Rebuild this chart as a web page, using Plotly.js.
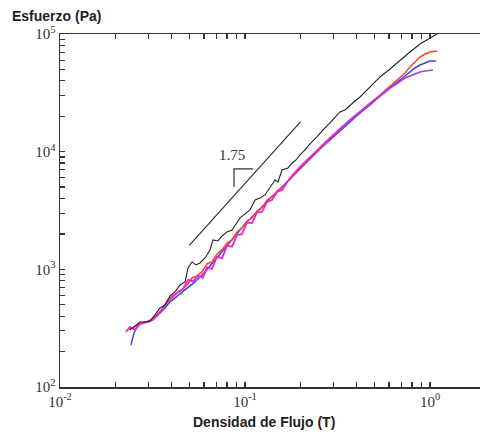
<!DOCTYPE html>
<html><head><meta charset="utf-8">
<script src="https://cdn.plot.ly/plotly-3.0.1.min.js"></script>
<style>html,body{margin:0;padding:0;background:#fff;overflow:hidden}#c{width:480px;height:438px}</style>
</head><body><div id="c"></div>
<script>
// Densidad de flujo (T) / Esfuerzo (Pa)
const blackX = [0.0239,0.02543,0.02706,0.02881,0.03065,0.03262,0.03471,0.03695,0.03932,0.04184,0.04453,0.0474,0.0492,0.05171,0.05434,0.05711,0.06078,0.06468,0.06714,0.07146,0.0751,0.07993,0.08506,0.0894,0.09397,0.1,0.1064,0.1133,0.1205,0.1283,0.1365,0.1453,0.1508,0.1585,0.1708,0.1796,0.1887,0.1983,0.211,0.2246,0.245,0.264,0.2881,0.3065,0.3262,0.3471,0.3695,0.3932,0.4184,0.4453,0.474,0.5044,0.5367,0.6078,0.6883,0.7796,0.883,1.0,1.091];
const blackY = [306,330,357,357,364,410,470,498,594,643,737,781,1028,1156,1090,1133,1250,1461,1777,1743,1922,2079,2161,2431,2734,2957,3197,3888,4043,4287,4916,5748,5528,6990,7270,8017,8500,9376,10337,11626,13333,15290,17530,19330,21740,22610,24940,26970,29150,32160,34770,39100,43130,50420,60130,70340,82220,92470,100000];

const redX = [0.02302,0.02482,0.02706,0.02953,0.03143,0.03345,0.03559,0.03788,0.04031,0.0429,0.04565,0.04859,0.05171,0.05502,0.05855,0.06231,0.06631,0.07057,0.0751,0.07993,0.08506,0.09052,0.09634,0.1025,0.1091,0.1161,0.1236,0.1315,0.1399,0.1489,0.1585,0.1751,0.1983,0.2246,0.2543,0.2881,0.3262,0.3695,0.4184,0.474,0.5367,0.6078,0.6883,0.7326,0.7796,0.8297,0.883,0.9397,1.0,1.091];
const redY = [306,318,350,357,379,410,452,518,571,630,668,737,845,879,950,1111,1156,1351,1461,1676,1777,2079,2247,2578,2734,3135,3324,3888,4122,4634,4914,5862,7270,8841,10750,13070,15590,18600,22170,25930,30320,36150,42290,46630,52440,57820,63770,67630,70330,71700];

const blueX = [0.0242,0.02512,0.0264,0.02881,0.03065,0.03262,0.03471,0.03695,0.03932,0.04184,0.04453,0.0474,0.05044,0.05367,0.05711,0.06078,0.06468,0.06883,0.07326,0.07796,0.08297,0.0883,0.09397,0.1,0.1064,0.1133,0.1205,0.1283,0.1365,0.1453,0.1546,0.1751,0.1983,0.2246,0.2543,0.2881,0.3262,0.3695,0.4184,0.474,0.5367,0.6078,0.6883,0.7326,0.7796,0.8297,0.883,0.9397,1.0,1.078];
const blueY = [228,288,337,357,364,386,426,470,529,571,618,668,723,781,862,950,1069,1202,1378,1550,1743,1922,2161,2431,2681,2956,3260,3595,4043,4370,4819,5862,7129,8670,10540,12570,14990,17880,21320,24940,29730,35450,40670,43970,47550,51420,54530,56700,58960,58960];

const magentaX = [0.02275,0.0239,0.02543,0.02706,0.0299,0.03183,0.03387,0.03605,0.03835,0.04081,0.04343,0.04622,0.0492,0.05236,0.05571,0.05929,0.06231,0.06631,0.07057,0.0751,0.07993,0.08506,0.09052,0.09634,0.1025,0.1091,0.1161,0.1236,0.1315,0.1399,0.1489,0.1585,0.1751,0.1983,0.2246,0.2543,0.2881,0.3262,0.3695,0.4184,0.474,0.5367,0.6078,0.6883];
const magentaY = [294,324,306,344,357,372,418,470,550,594,643,681,813,790,880,850,1040,1010,1275,1240,1590,1560,1960,1990,2500,2470,3050,3080,3738,3888,4545,4726,5977,7413,9016,10960,13070,15590,18600,21750,25430,29730,34770,39880];

const violetX = [0.3262,0.3695,0.4184,0.474,0.5367,0.6078,0.6883,0.7326,0.7796,0.8297,0.883,0.9397,1.0,1.038];
const violetY = [15290,18240,21320,25430,29730,34770,39880,42290,43970,45730,47550,48490,49450,49450];

// slope guide line and bracket
const slopeX = [0.05,0.2];
const slopeY = [1600,18000];
const bracketX = [0.1105,0.0872,0.0872];
const bracketY = [7129,7129,5013];
const slopeLabel = "1.75";
const slopeLabelX = 0.0852, slopeLabelY = 9300;

// tick positions: decades labelled, 2..9 multiples unlabelled
const xDecades = [0.01,0.1,1];
const xDecadeText = ["10<sup>-2</sup>","10<sup>-1</sup>","10<sup>0</sup>"];
const yDecades = [100,1000,10000,100000];
const yDecadeText = ["10<sup>2</sup>","10<sup>3</sup>","10<sup>4</sup>","10<sup>5</sup>"];
const mult = [1,2,3,4,5,6,7,8,9];

function buildTicks(decades, texts){
  const vals = [], txt = [];
  decades.forEach((d,i) => mult.forEach(m => { vals.push(m*d); txt.push(m===1 ? texts[i] : ' '); }));
  return {vals, txt};
}
const xt = buildTicks(xDecades, xDecadeText);
const yt = buildTicks(yDecades, yDecadeText);

function ln(x,y,color,w){return {x:x,y:y,type:'scatter',mode:'lines',line:{color:color,width:w},hoverinfo:'skip',showlegend:false};}

const traces = [
  ln(slopeX,slopeY,'#333333',1.2),
  ln(bracketX,bracketY,'#333333',1.2),
  ln(blueX,blueY,'#3348e0',1.5),
  ln(redX,redY,'#ff4422',1.5),
  ln(magentaX,magentaY,'#ee22dd',1.8),
  ln(violetX,violetY,'#a040e0',1.6),
  ln(blackX,blackY,'#222222',1.1)
];

const axisFont = {family:'Liberation Serif, serif', size:15, color:'#333'};
const layout = {
  width:480, height:438,
  margin:{l:60,r:0,t:34,b:51},
  paper_bgcolor:'#fff', plot_bgcolor:'#fff',
  showlegend:false,
  xaxis:{type:'log', range:[-2,0.2703], showgrid:false, zeroline:false,
    showline:true, linecolor:'#333', linewidth:1.5, mirror:'ticks', tickangle:0,
    ticks:'inside', ticklen:5, tickcolor:'#333', tickwidth:1.2, tickmode:'array', tickvals:xt.vals, ticktext:xt.txt,
    tickfont:axisFont},
  yaxis:{type:'log', range:[2,5], showgrid:false, zeroline:false,
    showline:true, linecolor:'#333', linewidth:1.5, tickangle:0,
    ticks:'inside', ticklen:5, tickcolor:'#333', tickwidth:1.2, tickmode:'array', tickvals:yt.vals, ticktext:yt.txt,
    tickfont:axisFont},
  title:{text:'Esfuerzo (Pa)', x:12/480, xanchor:'left', xref:'container', y:1-16/438, yanchor:'middle', yref:'container',
    font:{family:'Liberation Sans, Arial, sans-serif', size:14, color:'#222', weight:'bold'}},
  annotations:[
    {text:'Densidad de Flujo (T)', xref:'paper', yref:'paper', x:(264-60)/420, y:-(422-387)/353, xanchor:'center', yanchor:'middle', showarrow:false,
     font:{family:'Liberation Sans, Arial, sans-serif', size:14, color:'#222', weight:'bold'}},
    {text:slopeLabel, x:Math.log10(slopeLabelX), y:Math.log10(slopeLabelY), xref:'x', yref:'y', showarrow:false, xanchor:'center', yanchor:'middle',
     font:{family:'Liberation Serif, serif', size:15, color:'#333'}}
  ]
};
Plotly.newPlot('c', traces, layout, {staticPlot:true, displayModeBar:false});
</script></body></html>
